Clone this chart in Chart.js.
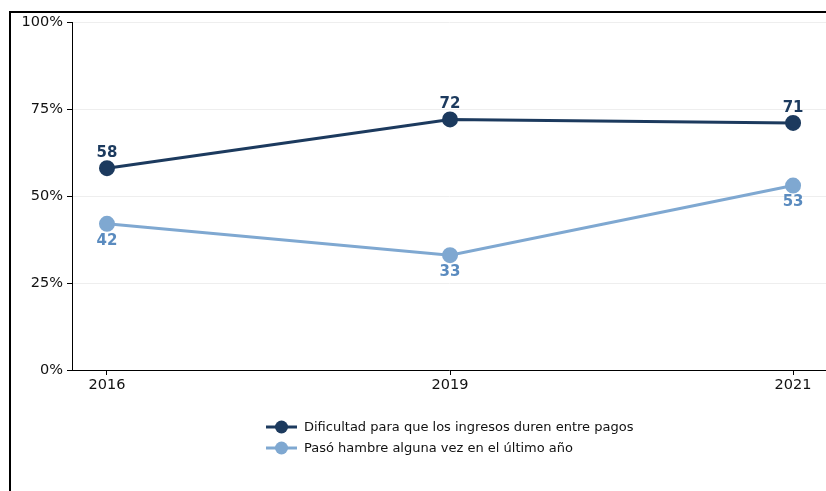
<!DOCTYPE html>
<html>
<head>
<meta charset="utf-8">
<script src="https://cdn.jsdelivr.net/npm/chart.js@4.4.1/dist/chart.umd.min.js"></script>
<style>
  html, body { margin: 0; padding: 0; background: #fff; overflow: hidden; }
  #wrap { position: relative; width: 826px; height: 491px; }
  #frame { position: absolute; left: 9px; top: 11px; width: 900px; height: 600px;
           border-left: 2px solid #000; border-top: 2px solid #000; }
  canvas { position: absolute; left: 0; top: 0; }
</style>
</head>
<body>
<div id="wrap">
  <div id="frame"></div>
  <canvas id="chart" width="826" height="491"></canvas>
</div>
<script>
const years = ['2016', '2019', '2021'];
const dificultad = [58, 72, 71];
const hambre = [42, 33, 53];
const seriesNames = [
  'Dificultad para que los ingresos duren entre pagos',
  'Pasó hambre alguna vez en el último año'
];
const yTicks = [0, 25, 50, 75, 100];

const DARK = '#1c3a5e';
const LIGHT = '#7fa8d1';
const LIGHT_TEXT = '#5a8bbf';
const FONT = '"DejaVu Sans", sans-serif';

// value labels: dark series above points, light series below
const valueLabels = {
  id: 'valueLabels',
  afterDatasetsDraw(chart) {
    const ctx = chart.ctx;
    ctx.save();
    ctx.font = 'bold 15px ' + FONT;
    ctx.textAlign = 'center';
    ctx.textBaseline = 'middle';
    chart.data.datasets.forEach((ds, i) => {
      const meta = chart.getDatasetMeta(i);
      meta.data.forEach((pt, j) => {
        const above = i === 0;
        ctx.fillStyle = above ? DARK : LIGHT_TEXT;
        ctx.fillText(String(ds.data[j].y), pt.x, pt.y + (above ? -15 : 17));
      });
    });
    ctx.restore();
  }
};

// legend with line + marker, stacked in two rows
const lineLegend = {
  id: 'lineLegend',
  afterDraw(chart) {
    const ctx = chart.ctx;
    ctx.save();
    ctx.font = '13px ' + FONT;
    ctx.textBaseline = 'middle';
    ctx.textAlign = 'left';
    chart.data.datasets.forEach((ds, i) => {
      const y = 427 + i * 21;
      ctx.strokeStyle = ds.borderColor;
      ctx.lineWidth = 3;
      ctx.beginPath();
      ctx.moveTo(266, y);
      ctx.lineTo(297, y);
      ctx.stroke();
      ctx.fillStyle = ds.borderColor;
      ctx.beginPath();
      ctx.arc(281.5, y, 6.5, 0, Math.PI * 2);
      ctx.fill();
      ctx.fillStyle = '#111';
      ctx.fillText(ds.label, 304, y + 1);
    });
    ctx.restore();
  }
};

const toPoints = arr => arr.map((v, i) => ({ x: i, y: v }));

new Chart(document.getElementById('chart'), {
  type: 'line',
  data: {
    datasets: [{
      label: seriesNames[0],
      data: toPoints(dificultad),
      borderColor: DARK,
      backgroundColor: DARK,
      borderWidth: 3,
      pointRadius: 6.5,
      pointHoverRadius: 6.5,
      tension: 0
    }, {
      label: seriesNames[1],
      data: toPoints(hambre),
      borderColor: LIGHT,
      backgroundColor: LIGHT,
      borderWidth: 3,
      pointRadius: 6.5,
      pointHoverRadius: 6.5,
      tension: 0
    }]
  },
  options: {
    responsive: false,
    animation: false,
    layout: { autoPadding: false, padding: { left: 0, top: 22, right: 0, bottom: 91 } },
    plugins: {
      legend: { display: false },
      tooltip: { enabled: false }
    },
    scales: {
      x: {
        type: 'linear',
        min: -0.102,
        max: 2.096,
        afterBuildTicks(scale) {
          scale.ticks = years.map((_, i) => ({ value: i }));
        },
        afterFit(scale) {
          scale.height = 30;
          scale.paddingLeft = 0;
          scale.paddingRight = 0;
        },
        ticks: {
          callback: v => years[v],
          color: '#111',
          font: { family: FONT, size: 14.5 },
          padding: 2,
          maxRotation: 0
        },
        grid: { drawOnChartArea: false, tickLength: 5, tickColor: '#000' },
        border: { color: '#000', width: 1 }
      },
      y: {
        min: 0,
        max: 100,
        afterBuildTicks(scale) {
          scale.ticks = yTicks.map(v => ({ value: v }));
        },
        afterFit(scale) {
          scale.width = 72;
          scale.paddingTop = 0;
          scale.paddingBottom = 0;
        },
        ticks: {
          callback: v => v + '%',
          color: '#111',
          font: { family: FONT, size: 14.5 },
          padding: 4
        },
        grid: { color: '#eeeeee', tickLength: 5, tickColor: '#000' },
        border: { color: '#000', width: 1 }
      }
    }
  },
  plugins: [valueLabels, lineLegend]
});
</script>
</body>
</html>
